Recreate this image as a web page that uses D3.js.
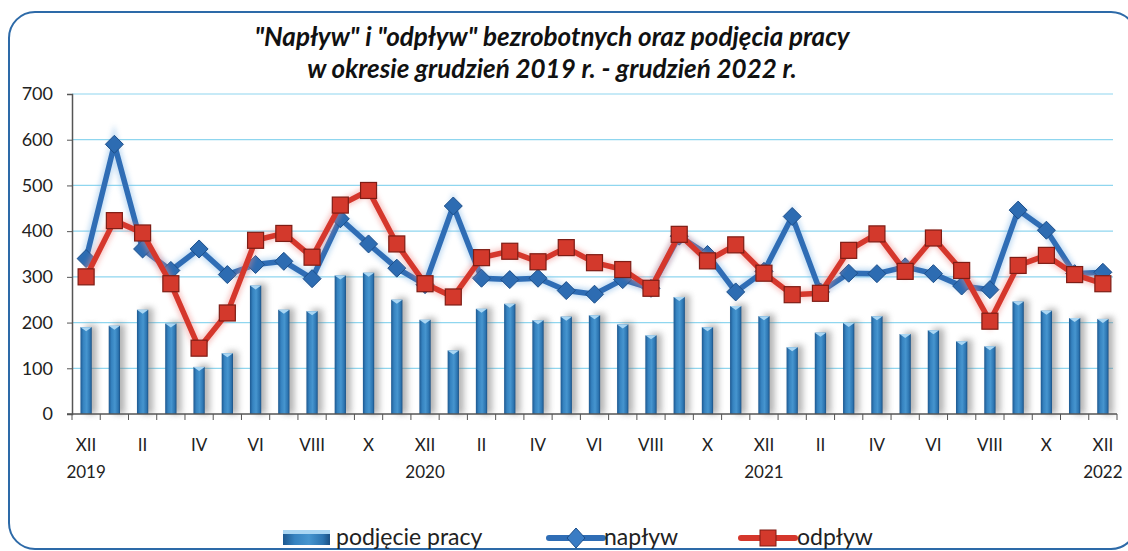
<!DOCTYPE html>
<html>
<head>
<meta charset="utf-8">
<script src="https://cdn.jsdelivr.net/npm/d3@7"></script>
<style>
  body { margin: 0; background: #fff; }
  svg { display: block; font-family: Lato, "Open Sans", sans-serif; }
</style>
</head>
<body>
<div id="chart"></div>
<script>
// months XII 2019 .. XII 2022
var months = ["XII","I","II","III","IV","V","VI","VII","VIII","IX","X","XI",
              "XII","I","II","III","IV","V","VI","VII","VIII","IX","X","XI",
              "XII","I","II","III","IV","V","VI","VII","VIII","IX","X","XI","XII"];
var yearLabels = {0: "2019", 12: "2020", 24: "2021", 36: "2022"};

var podjecie = [190,193,228,198,103,133,281,228,225,303,309,250,206,
                139,230,241,205,213,216,196,172,256,190,236,214,146,
                178,199,214,175,183,159,148,246,226,210,208];
var naplyw = [340,590,361,314,361,305,327,334,296,427,372,319,283,
              455,297,294,297,270,262,294,275,389,349,267,312,432,
              267,308,307,322,307,280,272,446,402,307,310];
var odplyw = [300,423,396,285,144,221,380,395,343,457,489,372,285,
              256,342,356,333,364,331,316,275,393,335,370,308,261,
              264,358,394,312,385,314,203,325,347,305,285];
var yTicks = [0,100,200,300,400,500,600,700];

var width = 1128, height = 551;
var plotLeft = 72, plotRight = 1117, plotTop = 94, plotBottom = 414;

var svg = d3.select("#chart").append("svg")
    .attr("width", width)
    .attr("height", height);

var defs = svg.append("defs");

var barGrad = defs.append("linearGradient").attr("id", "barGrad")
    .attr("x1", "0%").attr("x2", "100%").attr("y1", "0%").attr("y2", "0%");
barGrad.append("stop").attr("offset", "0%").attr("stop-color", "#1d5890");
barGrad.append("stop").attr("offset", "25%").attr("stop-color", "#3683c0");
barGrad.append("stop").attr("offset", "55%").attr("stop-color", "#4695cf");
barGrad.append("stop").attr("offset", "85%").attr("stop-color", "#2c74b0");
barGrad.append("stop").attr("offset", "100%").attr("stop-color", "#1a5084");

defs.append("filter").attr("id", "shadow")
    .attr("x", "-50%").attr("y", "-20%").attr("width", "250%").attr("height", "140%")
    .append("feGaussianBlur").attr("stdDeviation", 3);

defs.append("filter").attr("id", "glow")
    .attr("x", "-10%").attr("y", "-20%").attr("width", "120%").attr("height", "140%")
    .append("feGaussianBlur").attr("stdDeviation", 2.5);

// frame
svg.append("rect")
    .attr("x", 9).attr("y", 12)
    .attr("width", 1128).attr("height", 537)
    .attr("rx", 26).attr("ry", 26)
    .attr("fill", "none")
    .attr("stroke", "#2d6aa8")
    .attr("stroke-width", 2);

// title
var title = svg.append("text")
    .attr("text-anchor", "middle")
    .attr("font-weight", "bold")
    .attr("font-style", "italic")
    .attr("font-size", 26)
    .attr("fill", "#111");
title.append("tspan").attr("x", 552).attr("y", 46)
    .text("\"Napływ\" i \"odpływ\" bezrobotnych oraz podjęcia pracy");
title.append("tspan").attr("x", 552).attr("y", 78)
    .text("w okresie grudzień 2019 r. - grudzień 2022 r.");

var x = d3.scaleBand()
    .domain(d3.range(months.length))
    .range([plotLeft, plotRight])
    .padding(0);

var y = d3.scaleLinear()
    .domain([0, 700])
    .range([plotBottom, plotTop]);

var g = svg.append("g");

// grid
g.append("g")
    .selectAll("line")
    .data(yTicks.filter(function (d) { return d > 0; }))
    .enter().append("line")
    .attr("x1", plotLeft).attr("x2", plotRight - 4)
    .attr("y1", function (d) { return y(d); })
    .attr("y2", function (d) { return y(d); })
    .attr("stroke", "#8fd6ef")
    .attr("stroke-width", 1.2);

var barW = x.bandwidth() * 0.4;

// bar shadows
g.append("g")
    .selectAll("rect")
    .data(podjecie)
    .enter().append("rect")
    .attr("x", function (d, i) { return x(i) + x.bandwidth() / 2 - barW / 2 + 5; })
    .attr("y", function (d) { return y(d) - 2; })
    .attr("width", barW)
    .attr("height", function (d) { return plotBottom - y(d) + 2; })
    .attr("fill", "#777")
    .attr("opacity", 0.55)
    .attr("filter", "url(#shadow)");

// bars
g.append("g")
    .selectAll("rect")
    .data(podjecie)
    .enter().append("rect")
    .attr("x", function (d, i) { return x(i) + x.bandwidth() / 2 - barW / 2; })
    .attr("y", function (d) { return y(d); })
    .attr("width", barW)
    .attr("height", function (d) { return plotBottom - y(d); })
    .attr("fill", "url(#barGrad)");

// bar top bevel
g.append("g")
    .selectAll("path")
    .data(podjecie)
    .enter().append("path")
    .attr("d", function (d, i) {
        var cx = x(i) + x.bandwidth() / 2, ty = y(d);
        return "M" + (cx - barW / 2) + "," + ty + "L" + (cx + barW / 2) + "," + ty +
            "L" + cx + "," + (ty + 4) + "Z";
    })
    .attr("fill", "#a9d6f3");

// axes
var yAxis = d3.axisLeft(y).tickValues(yTicks).tickSize(5).tickPadding(14);
var yg = svg.append("g").attr("transform", "translate(" + plotLeft + ",0)").call(yAxis);
yg.select(".domain").attr("stroke", "#555").attr("stroke-width", 1.5);
yg.selectAll(".tick line").attr("stroke", "#555");
yg.selectAll("text").attr("font-size", 18).attr("fill", "#222").attr("font-family", "Lato, sans-serif");

var xg = svg.append("g");
xg.append("line")
    .attr("x1", plotLeft - 5).attr("x2", plotRight)
    .attr("y1", plotBottom).attr("y2", plotBottom)
    .attr("stroke", "#555").attr("stroke-width", 1.5);
xg.selectAll(".xtick")
    .data(d3.range(months.length + 1))
    .enter().append("line")
    .attr("class", "xtick")
    .attr("x1", function (i) { return plotLeft + i * x.step(); })
    .attr("x2", function (i) { return plotLeft + i * x.step(); })
    .attr("y1", plotBottom).attr("y2", plotBottom + 6)
    .attr("stroke", "#555");
xg.selectAll(".mlabel")
    .data(months.map(function (m, i) { return {m: m, i: i}; }).filter(function (d) { return d.i % 2 === 0; }))
    .enter().append("text")
    .attr("class", "mlabel")
    .attr("x", function (d) { return x(d.i) + x.bandwidth() / 2; })
    .attr("y", 451)
    .attr("text-anchor", "middle")
    .attr("font-size", 17)
    .attr("fill", "#222")
    .text(function (d) { return d.m; });
xg.selectAll(".ylabel")
    .data(Object.keys(yearLabels).map(Number))
    .enter().append("text")
    .attr("class", "ylabel")
    .attr("x", function (i) { return x(i) + x.bandwidth() / 2; })
    .attr("y", 478)
    .attr("text-anchor", "middle")
    .attr("font-size", 17)
    .attr("fill", "#222")
    .text(function (i) { return yearLabels[i]; });

var line = d3.line()
    .x(function (d, i) { return x(i) + x.bandwidth() / 2; })
    .y(function (d) { return y(d); });

function drawSeries(values, color, glowColor, markerFn) {
    g.append("path")
        .datum(values)
        .attr("d", line)
        .attr("fill", "none")
        .attr("stroke", glowColor)
        .attr("stroke-width", 10)
        .attr("opacity", 0.45)
        .attr("filter", "url(#glow)");
    g.append("path")
        .datum(values)
        .attr("d", line)
        .attr("fill", "none")
        .attr("stroke", color)
        .attr("stroke-width", 5.5)
        .attr("stroke-linejoin", "round");
    markerFn(g.append("g").selectAll("path").data(values).enter());
}

drawSeries(naplyw, "#2f6db5", "#7fb6e6", function (sel) {
    sel.append("path")
        .attr("d", function (d, i) {
            var cx = x(i) + x.bandwidth() / 2, cy = y(d), r = 9;
            return "M" + cx + "," + (cy - r) + "L" + (cx + r) + "," + cy +
                "L" + cx + "," + (cy + r) + "L" + (cx - r) + "," + cy + "Z";
        })
        .attr("fill", "#2d6cb2")
        .attr("stroke", "#1d4f8a")
        .attr("stroke-width", 1);
});

drawSeries(odplyw, "#d5372c", "#f08a86", function (sel) {
    sel.append("rect")
        .attr("x", function (d, i) { return x(i) + x.bandwidth() / 2 - 8; })
        .attr("y", function (d) { return y(d) - 8; })
        .attr("width", 16).attr("height", 16)
        .attr("fill", "#d3392c")
        .attr("stroke", "#7e1d15")
        .attr("stroke-width", 1.2);
});

// legend
var lg = svg.append("g").attr("font-size", 23).attr("fill", "#222");
lg.append("rect").attr("x", 283).attr("y", 530).attr("width", 47).attr("height", 15)
    .attr("fill", "url(#barGrad)");
lg.append("rect").attr("x", 283).attr("y", 530).attr("width", 47).attr("height", 4)
    .attr("fill", "#a9d6f3");
lg.append("text").attr("x", 336).attr("y", 545).text("podjęcie pracy");

lg.append("line").attr("x1", 549).attr("x2", 603).attr("y1", 538).attr("y2", 538)
    .attr("stroke", "#2f6db5").attr("stroke-width", 6).attr("stroke-linecap", "round");
lg.append("path").attr("d", "M576,528L585,538L576,548L567,538Z")
    .attr("fill", "#3a7cc4").attr("stroke", "#1d4f8a");
lg.append("text").attr("x", 604).attr("y", 545).text("napływ");

lg.append("line").attr("x1", 741).attr("x2", 795).attr("y1", 538).attr("y2", 538)
    .attr("stroke", "#d5372c").attr("stroke-width", 6).attr("stroke-linecap", "round");
lg.append("rect").attr("x", 760).attr("y", 530).attr("width", 16).attr("height", 16)
    .attr("fill", "#d3392c").attr("stroke", "#7e1d15");
lg.append("text").attr("x", 797).attr("y", 545).text("odpływ");
</script>
</body>
</html>
